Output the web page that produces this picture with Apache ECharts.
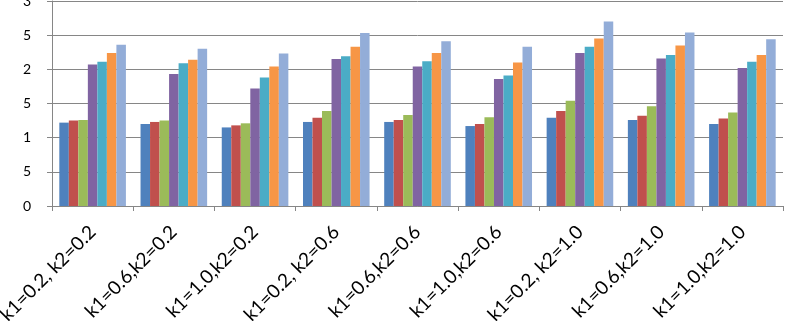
<!DOCTYPE html>
<html>
<head>
<meta charset="utf-8">
<script src="https://cdn.jsdelivr.net/npm/echarts@6/dist/echarts.min.js"></script>
<style>
html,body{margin:0;padding:0;background:#fff;}
#chart{width:785px;height:321px;}
</style>
</head>
<body>
<div id="chart"></div>
<script>
const categories = ["k1=0.2, k2=0.2","k1=0.6,k2=0.2","k1=1.0,k2=0.2","k1=0.2, k2=0.6","k1=0.6,k2=0.6","k1=1.0,k2=0.6","k1=0.2, k2=1.0","k1=0.6,k2=1.0","k1=1.0,k2=1.0"];
const yTicks = [0, 0.5, 1, 1.5, 2, 2.5, 3];
const series1 = [1.22, 1.20, 1.15, 1.23, 1.23, 1.17, 1.29, 1.26, 1.20];
const series2 = [1.25, 1.23, 1.18, 1.29, 1.26, 1.20, 1.39, 1.32, 1.28];
const series3 = [1.26, 1.25, 1.21, 1.39, 1.33, 1.30, 1.54, 1.46, 1.37];
const series4 = [2.07, 1.93, 1.72, 2.15, 2.04, 1.86, 2.24, 2.16, 2.02];
const series5 = [2.11, 2.09, 1.88, 2.19, 2.12, 1.91, 2.33, 2.21, 2.11];
const series6 = [2.24, 2.14, 2.04, 2.33, 2.24, 2.10, 2.45, 2.35, 2.21];
const series7 = [2.36, 2.30, 2.23, 2.53, 2.41, 2.33, 2.70, 2.54, 2.44];
const seriesNames = ["Series 1","Series 2","Series 3","Series 4","Series 5","Series 6","Series 7"];
const colors = ["#4F81BD","#C0504D","#9BBB59","#8064A2","#4BACC6","#F79646","#93ADD8"];
const allSeries = [series1, series2, series3, series4, series5, series6, series7];

const chart = echarts.init(document.getElementById('chart'), null, {renderer: 'canvas'});
const axisGray = '#868686';
chart.setOption({
  animation: false,
  color: colors,
  grid: {left: 52, right: 2, top: 1, bottom: 115, containLabel: false, outerBoundsMode: 'none'},
  xAxis: {
    type: 'category',
    data: categories,
    axisLine: {lineStyle: {color: axisGray, width: 1}},
    axisTick: {show: true, alignWithLabel: false, length: 5, lineStyle: {color: axisGray}},
    axisLabel: {rotate: 45, margin: 23, fontFamily: 'Lato', fontSize: 19, color: '#000', interval: 0, hideOverlap: false}
  },
  yAxis: {
    type: 'value',
    min: yTicks[0],
    max: yTicks[yTicks.length - 1],
    interval: 0.5,
    axisLine: {show: true, lineStyle: {color: axisGray, width: 1}},
    axisTick: {show: true, length: 5, lineStyle: {color: axisGray}},
    splitLine: {show: true, lineStyle: {color: axisGray, width: 1}},
    axisLabel: {margin: 21, fontFamily: 'Lato', fontSize: 14, color: '#000'}
  },
  graphic: [{
    type: 'rect', left: 0, top: 0, z: 100,
    shape: {width: 23, height: 215},
    style: {fill: '#fff'}
  }],
  series: allSeries.map((d, i) => ({
    name: seriesNames[i],
    type: 'bar',
    data: d,
    barGap: '0%',
    barCategoryGap: '18%'
  }))
});
</script>
</body>
</html>
